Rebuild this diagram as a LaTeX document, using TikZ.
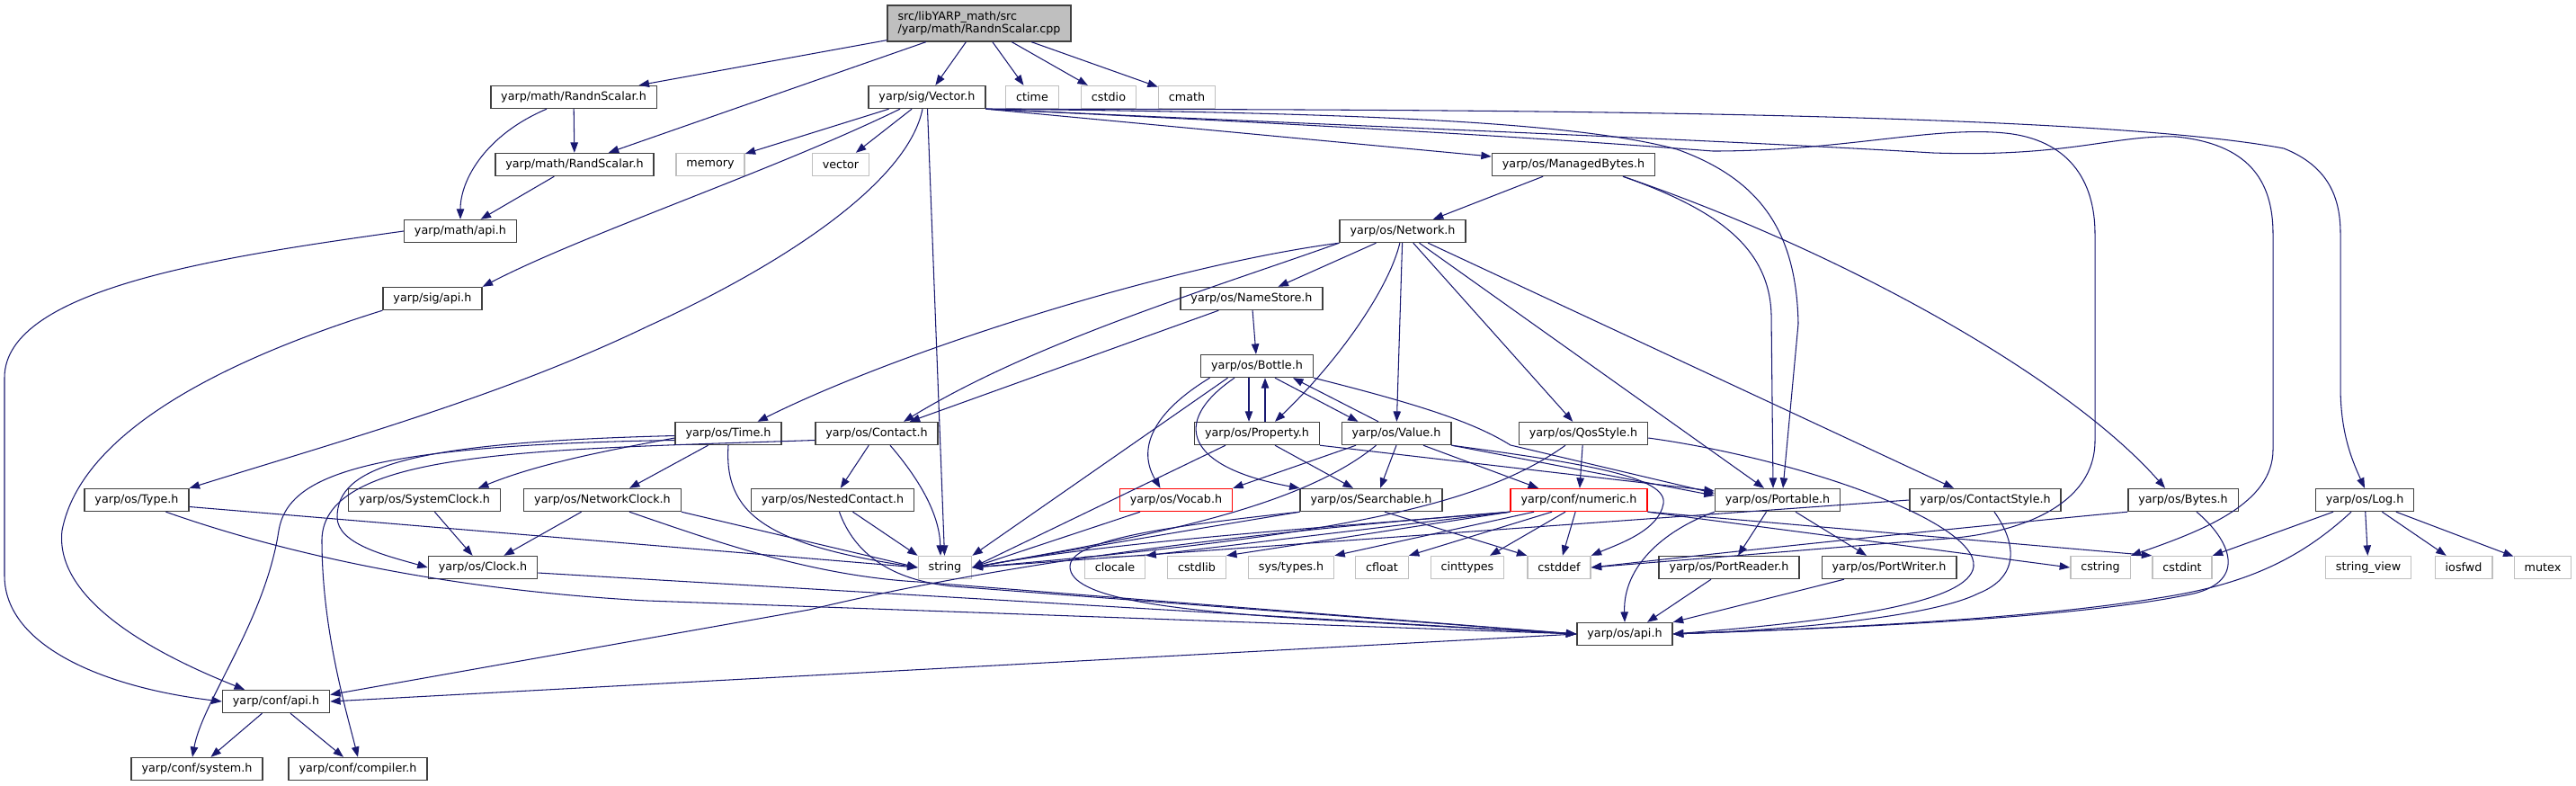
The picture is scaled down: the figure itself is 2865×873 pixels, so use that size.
\documentclass[tikz,border=0pt]{standalone}
\usepackage{fontspec}
\setmainfont{DejaVu Sans}
\usepackage{tikz}
\usetikzlibrary{arrows.meta}
\usepackage{xcolor}

\definecolor{edgeblue}{HTML}{191970}
\definecolor{boxgray}{HTML}{404040}
\definecolor{sysgray}{HTML}{BFBFBF}

\tikzset{
  hdr/.style={draw=boxgray, fill=white, line width=0.8pt, inner xsep=6.5pt,
    minimum height=0.5cm, font=\fontsize{7.25}{8.5}\selectfont},
  sys/.style={hdr, draw=sysgray},
  trunc/.style={hdr, draw=red},
  rootbox/.style={hdr, fill=sysgray, align=left, minimum height=0.8cm},
  edge/.style={draw=edgeblue, line width=0.6pt, -{Triangle[length=6.5pt,width=4.8pt]}},
}

\begin{document}
\begin{tikzpicture}[x=0.02cm,y=-0.02cm]
  \useasboundingbox (0,0) rectangle (2865,873);
  \node[rootbox] (root) at (1089,26) {src/libYARP\_math/src\\/yarp/math/RandnScalar.cpp};
  \node[hdr] (mRandn) at (638,108) {yarp/math/RandnScalar.h};
  \node[hdr] (vec) at (1031,108) {yarp/sig/Vector.h};
  \node[sys] (ctime) at (1148,108) {ctime};
  \node[sys] (cstdio) at (1233,108) {cstdio};
  \node[sys] (cmath) at (1320,108) {cmath};
  \node[hdr] (mRand) at (639,183) {yarp/math/RandScalar.h};
  \node[sys] (memory) at (790,183) {memory};
  \node[sys] (vector) at (935,183) {vector};
  \node[hdr] (mbytes) at (1750,183) {yarp/os/ManagedBytes.h};
  \node[hdr] (mapi) at (512,257) {yarp/math/api.h};
  \node[hdr] (network) at (1560,257) {yarp/os/Network.h};
  \node[hdr] (sigapi) at (481,332) {yarp/sig/api.h};
  \node[hdr] (namestore) at (1392,332) {yarp/os/NameStore.h};
  \node[hdr] (bottle) at (1398,407) {yarp/os/Bottle.h};
  \node[hdr] (time) at (810,482) {yarp/os/Time.h};
  \node[hdr] (contact) at (975,482) {yarp/os/Contact.h};
  \node[hdr] (property) at (1398,482) {yarp/os/Property.h};
  \node[hdr] (value) at (1553,482) {yarp/os/Value.h};
  \node[hdr] (qos) at (1761,482) {yarp/os/QosStyle.h};
  \node[hdr] (type) at (152,556) {yarp/os/Type.h};
  \node[hdr] (sysclock) at (472,556) {yarp/os/SystemClock.h};
  \node[hdr] (netclock) at (670,556) {yarp/os/NetworkClock.h};
  \node[hdr] (nested) at (926,556) {yarp/os/NestedContact.h};
  \node[trunc] (vocab) at (1308,556) {yarp/os/Vocab.h};
  \node[hdr] (searchable) at (1525,556) {yarp/os/Searchable.h};
  \node[trunc] (numeric) at (1756,556) {yarp/conf/numeric.h};
  \node[hdr] (portable) at (1977,556) {yarp/os/Portable.h};
  \node[hdr] (cstyle) at (2208,556) {yarp/os/ContactStyle.h};
  \node[hdr] (bytes) at (2428,556) {yarp/os/Bytes.h};
  \node[hdr] (log) at (2630,556) {yarp/os/Log.h};
  \node[hdr] (clock) at (537,631) {yarp/os/Clock.h};
  \node[sys] (string) at (1051,631) {string};
  \node[sys] (clocale) at (1240,631) {clocale};
  \node[sys] (cstdlib) at (1331,631) {cstdlib};
  \node[sys] (systypes) at (1436,631) {sys/types.h};
  \node[sys] (cfloat) at (1537,631) {cfloat};
  \node[sys] (cinttypes) at (1632,631) {cinttypes};
  \node[sys] (cstddef) at (1734,631) {cstddef};
  \node[hdr] (preader) at (1923,631) {yarp/os/PortReader.h};
  \node[hdr] (pwriter) at (2101,631) {yarp/os/PortWriter.h};
  \node[sys] (cstring) at (2336,631) {cstring};
  \node[sys] (cstdint) at (2427,631) {cstdint};
  \node[sys] (strview) at (2634,631) {string\_view};
  \node[sys] (iosfwd) at (2740,631) {iosfwd};
  \node[sys] (mutex) at (2828,631) {mutex};
  \node[hdr] (osapi) at (1807,705) {yarp/os/api.h};
  \node[hdr] (capi) at (307,780) {yarp/conf/api.h};
  \node[hdr] (system) at (219,855) {yarp/conf/system.h};
  \node[hdr] (compiler) at (398,855) {yarp/conf/compiler.h};

  \draw[edge] (root) -- (mRandn);
  \draw[edge] (root) -- (mRand);
  \draw[edge] (root) -- (vec);
  \draw[edge] (root) -- (ctime);
  \draw[edge] (root) -- (cstdio);
  \draw[edge] (root) -- (cmath);
  \draw[edge] (mRandn) -- (mRand);
  \draw[edge] ([xshift=-0.6cm]mRandn.south) .. controls (540,150) and (512,200) .. (mapi.north);
  \draw[edge] (mRand) -- (mapi);
  \draw[edge] (mapi.west) .. controls (250,285) and (5,320) .. (5,420) -- (5,640) .. controls (5,720) and (120,765) .. (capi.west);

  \draw[edge] (vec) -- (memory);
  \draw[edge] (vec) -- (vector);
  \draw[edge] ([xshift=-0.6cm]vec.south) .. controls (860,190) and (650,260) .. (sigapi.north east);
  \draw[edge] ([xshift=-0.1cm]vec.south) .. controls (1010,200) and (880,290) .. (720,363) .. controls (560,440) and (380,490) .. (type.north east);
  \draw[edge] (vec) -- (string);
  \draw[edge] (vec.south east) -- ([yshift=0.18cm]mbytes.west);
  \draw[edge] (vec.south east) .. controls (1500,125) and (1750,135) .. (1865,166) .. controls (1960,200) and (1998,260) .. (2000,360) -- ([xshift=0.12cm]portable.north);
  \draw[edge] (vec.south east) .. controls (1600,145) and (1800,160) .. (1905,168) .. controls (2050,168) and (2150,140) .. (2230,148) .. controls (2300,155) and (2330,200) .. (2330,260) -- (2330,490) .. controls (2330,560) and (2250,595) .. (2150,600) -- (cstddef.east);
  \draw[edge] (vec.south east) .. controls (1500,140) and (1900,155) .. (2150,170) .. controls (2300,175) and (2350,150) .. (2420,152) .. controls (2500,160) and (2528,200) .. (2528,260) -- (2528,500) .. controls (2528,560) and (2450,590) .. (cstring.north east);
  \draw[edge] (vec.south east) .. controls (1500,122) and (2300,120) .. (2540,165) .. controls (2590,185) and (2603,220) .. (2603,260) -- (2603,430) .. controls (2603,480) and (2615,510) .. (log.north);
  \draw[edge] (sigapi.south west) .. controls (250,400) and (90,480) .. (69,590) .. controls (60,670) and (180,730) .. ([xshift=-0.7cm]capi.north);

  \draw[edge] (mbytes) -- (network);
  \draw[edge] ([xshift=1.1cm]mbytes.south) .. controls (1900,230) and (1968,270) .. (1970,350) -- ([xshift=-0.1cm]portable.north);
  \draw[edge] ([xshift=1.1cm]mbytes.south) .. controls (2050,280) and (2300,420) .. ([xshift=-0.4cm]bytes.north);

  \draw[edge] (network.south west) .. controls (1300,295) and (1000,390) .. ([xshift=0.65cm]time.north);
  \draw[edge] (network.south west) .. controls (1350,320) and (1150,380) .. ([xshift=0.6cm]contact.north);
  \draw[edge] (network) -- (namestore);
  \draw[edge] (network) .. controls (1545,320) and (1490,400) .. ([xshift=0.4cm]property.north);
  \draw[edge] (network) -- (value);
  \draw[edge] (network) -- (qos);
  \draw[edge] (network) -- ([xshift=-0.3cm]portable.north);
  \draw[edge] (network) -- ([xshift=-0.7cm]cstyle.north);
  \draw[edge] (namestore) -- (contact);
  \draw[edge] (namestore) -- (bottle);

  \draw[edge] ([xshift=-0.18cm]bottle.south) -- ([xshift=-0.18cm]property.north);
  \draw[edge] ([xshift=0.18cm]property.north) -- ([xshift=0.18cm]bottle.south);
  \draw[edge] ([xshift=0.4cm]bottle.south) -- ([xshift=-0.85cm]value.north);
  \draw[edge] ([xshift=-0.4cm]value.north) -- ([xshift=0.8cm]bottle.south);
  \draw[edge] ([xshift=-1.05cm]bottle.south) .. controls (1280,460) and (1265,500) .. ([xshift=-0.35cm]vocab.north);
  \draw[edge] ([xshift=-0.65cm]bottle.south) -- (string.north east);
  \draw[edge] ([xshift=-0.5cm]bottle.south) .. controls (1300,470) and (1320,520) .. (searchable.north west);
  \draw[edge] (bottle.south east) .. controls (1580,450) and (1640,470) .. (1680,495) -- ([yshift=0.15cm]portable.west);

  \draw[edge] ([xshift=-0.7cm]property.south) -- (string.east);
  \draw[edge] ([xshift=0.4cm]property.south) -- ([xshift=-0.4cm]searchable.north);
  \draw[edge] (property.south east) -- ([yshift=0.2cm]portable.west);

  \draw[edge] ([xshift=-0.9cm]value.south) -- (vocab.north east);
  \draw[edge] ([xshift=-0.45cm]value.south) .. controls (1440,570) and (1250,600) .. (string.east);
  \draw[edge] (value.south) -- ([xshift=0.2cm]searchable.north);
  \draw[edge] ([xshift=0.6cm]value.south) -- ([xshift=-0.9cm]numeric.north);
  \draw[edge] (value.south east) -- ([yshift=0.1cm]portable.west);
  \draw[edge] (value.south east) .. controls (1760,515) and (1855,530) .. (1850,560) .. controls (1845,590) and (1800,605) .. (cstddef.north east);

  \draw[edge] ([xshift=-0.4cm]qos.south) .. controls (1650,560) and (1500,595) .. (string.east);
  \draw[edge] (qos) -- (numeric);
  \draw[edge] ([yshift=-0.1cm]qos.east) .. controls (2000,510) and (2200,580) .. (2195,630) .. controls (2190,670) and (2050,690) .. (osapi.east);
  \draw[edge] (cstyle.west) -- (string.east);
  \draw[edge] ([xshift=0.2cm]cstyle.south) .. controls (2240,600) and (2250,640) .. (2200,660) .. controls (2150,685) and (2000,700) .. (osapi.east);
  \draw[edge] (bytes.south west) .. controls (2250,580) and (2000,605) .. (cstddef.east);
  \draw[edge] ([xshift=0.3cm]bytes.south) .. controls (2480,600) and (2500,645) .. (2440,660) .. controls (2300,690) and (2000,700) .. (osapi.east);
  \draw[edge] (log) -- (strview);
  \draw[edge] (log) -- (iosfwd);
  \draw[edge] (log) -- (mutex);
  \draw[edge] ([xshift=-0.7cm]log.south) -- (cstdint.north east);
  \draw[edge] ([xshift=-0.3cm]log.south) .. controls (2560,620) and (2500,650) .. (2400,665) .. controls (2250,690) and (2000,700) .. (osapi.east);

  \draw[edge] ([yshift=-0.1cm]time.west) .. controls (680,500) and (600,515) .. ([xshift=1.2cm]sysclock.north);
  \draw[edge] ([xshift=-0.45cm]time.south) -- ([xshift=0.6cm]netclock.north);
  \draw[edge] ([yshift=-0.05cm]time.west) .. controls (450,492) and (375,520) .. (375,575) .. controls (375,605) and (430,618) .. (clock.west);
  \draw[edge] ([yshift=-0.15cm]time.west) .. controls (400,495) and (320,530) .. (310,590) .. controls (295,690) and (225,780) .. ([xshift=-0.1cm]system.north);
  \draw[edge] (time.south) .. controls (805,570) and (850,605) .. (string.west);
  \draw[edge] ([yshift=-0.15cm]contact.west) .. controls (600,500) and (360,500) .. (358,600) .. controls (358,700) and (385,790) .. (compiler.north);
  \draw[edge] (contact) -- (nested);
  \draw[edge] ([xshift=0.3cm]contact.south) .. controls (1020,530) and (1045,570) .. ([xshift=-0.1cm]string.north);

  \draw[edge] ([yshift=-0.15cm]type.east) -- (string.west);
  \draw[edge] ([xshift=0.65cm]type.south) .. controls (300,610) and (480,655) .. (720,668) -- (osapi.west);
  \draw[edge] (sysclock) -- (clock);
  \draw[edge] (netclock) -- (clock);
  \draw[edge] (netclock.south east) -- (string.west);
  \draw[edge] ([xshift=0.6cm]netclock.south) .. controls (790,600) and (900,640) .. (1021,647) -- (osapi.west);
  \draw[edge] ([xshift=0.45cm]nested.south) -- (string.north west);
  \draw[edge] ([xshift=0.15cm]nested.south) .. controls (950,615) and (990,645) .. (1060,652) -- (osapi.west);
  \draw[edge] ([xshift=-0.8cm]vocab.south) -- (string.east);

  \draw[edge] (searchable.south west) .. controls (1350,585) and (1200,610) .. (string.east);
  \draw[edge] (searchable.south west) .. controls (1300,585) and (1190,600) .. (1190,630) .. controls (1190,665) and (1300,678) .. (1450,688) -- (osapi.west);
  \draw[edge] ([xshift=0.3cm]searchable.south) -- (cstddef.north west);

  \draw[edge] (numeric.south west) .. controls (1500,585) and (1250,600) .. (string.east);
  \draw[edge] (numeric.south west) -- (clocale.north east);
  \draw[edge] (numeric.south west) -- (cstdlib.north east);
  \draw[edge] ([xshift=-1cm]numeric.south) -- (systypes.north east);
  \draw[edge] ([xshift=-0.6cm]numeric.south) -- (cfloat.north east);
  \draw[edge] ([xshift=-0.3cm]numeric.south) -- ([xshift=0.5cm]cinttypes.north);
  \draw[edge] (numeric) -- (cstddef);
  \draw[edge] (numeric.south east) -- (cstring.west);
  \draw[edge] (numeric.south east) -- (cstdint.north west);
  \draw[edge] (numeric.south west) .. controls (1350,595) and (1100,630) .. (900,678) -- ([yshift=0.15cm]capi.east);

  \draw[edge] ([xshift=-0.25cm]portable.south) -- ([xshift=0.2cm]preader.north);
  \draw[edge] ([xshift=0.4cm]portable.south) -- ([xshift=-0.5cm]pwriter.north);
  \draw[edge] (portable.south west) .. controls (1850,590) and (1805,630) .. (osapi.north);
  \draw[edge] ([xshift=-0.4cm]preader.south) -- ([xshift=0.5cm]osapi.north);
  \draw[edge] ([xshift=-1cm]pwriter.south) -- (osapi.north east);
  \draw[edge] ([yshift=-0.12cm]clock.east) -- (osapi.west);
  \draw[edge] (osapi.west) -- (capi.east);
  \draw[edge] (capi) -- (system);
  \draw[edge] (capi) -- (compiler);
\end{tikzpicture}
\end{document}
